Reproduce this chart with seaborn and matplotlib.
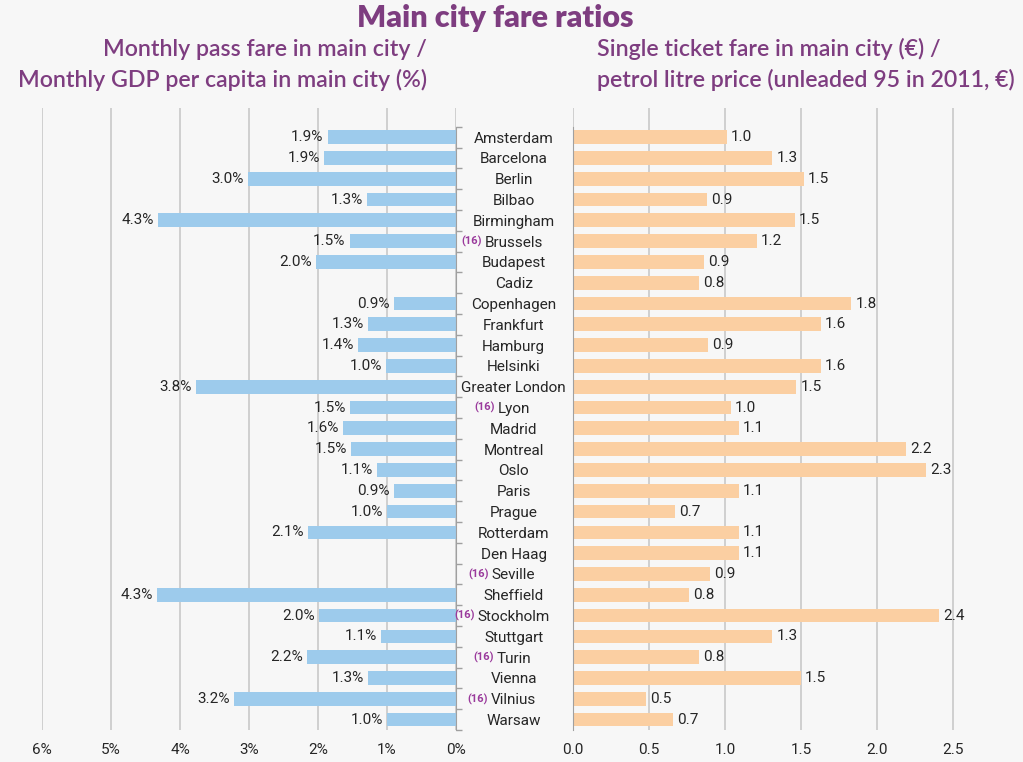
import numpy as np
import pandas as pd
import matplotlib
matplotlib.use("Agg")
import matplotlib.pyplot as plt
import seaborn as sns
from matplotlib import font_manager

# data
cities = ["Amsterdam", "Barcelona", "Berlin", "Bilbao", "Birmingham", "Brussels",
          "Budapest", "Cadiz", "Copenhagen", "Frankfurt", "Hamburg", "Helsinki",
          "Greater London", "Lyon", "Madrid", "Montreal", "Oslo", "Paris", "Prague",
          "Rotterdam", "Den Haag", "Seville", "Sheffield", "Stockholm", "Stuttgart",
          "Turin", "Vienna", "Vilnius", "Warsaw"]
pass_gdp_pct = [1.86, 1.91, 3.01, 1.29, 4.32, 1.54, 2.03, np.nan, 0.90, 1.28,
                1.42, 1.01, 3.77, 1.53, 1.64, 1.52, 1.14, 0.90, 1.00, 2.14,
                np.nan, np.nan, 4.33, 1.99, 1.09, 2.16, 1.28, 3.22, 1.00]
ticket_petrol = [1.01, 1.31, 1.52, 0.88, 1.46, 1.21, 0.86, 0.83, 1.83, 1.63,
                 0.89, 1.63, 1.47, 1.04, 1.09, 2.19, 2.32, 1.09, 0.67, 1.09,
                 1.09, 0.90, 0.76, 2.41, 1.31, 0.83, 1.50, 0.48, 0.66]
footnote_cities = ["Brussels", "Lyon", "Seville", "Stockholm", "Turin", "Vilnius"]
pct_ticks = [0, 1, 2, 3, 4, 5, 6]
ratio_ticks = [0.0, 0.5, 1.0, 1.5, 2.0, 2.5]

df = pd.DataFrame({"City": cities, "Pass": pass_gdp_pct, "Ticket": ticket_petrol})

installed = {f.name for f in font_manager.fontManager.ttflist}
cond = "Liberation Sans Narrow" if "Liberation Sans Narrow" in installed else "Roboto"

sns.set_style("white")
plt.rcParams["font.family"] = [cond, "DejaVu Sans"]

purple = "#7e3d80"
note_purple = "#9a3a9c"
blue = "#9dcbec"
orange = "#fbcfa2"
grid_c = "#c9c9c9"
bg = "#f7f7f7"

fig = plt.figure(figsize=(10.23, 7.62), dpi=100, facecolor=bg)
ax_l = fig.add_axes([42 / 1023, 32 / 762, 414 / 1023, 622 / 762])
ax_r = fig.add_axes([573 / 1023, 32 / 762, 445 / 1023, 622 / 762])

sns.barplot(data=df, x="Pass", y="City", order=cities, color=blue, saturation=1,
            width=0.66, errorbar=None, linewidth=0, ax=ax_l)
sns.barplot(data=df, x="Ticket", y="City", order=cities, color=orange, saturation=1,
            width=0.66, errorbar=None, linewidth=0, ax=ax_r)

n = len(cities)
for ax in (ax_l, ax_r):
    ax.set_facecolor("none")
    ax.set_ylim(n - 0.5, -1.4)
    ax.set_xlabel("")
    ax.set_ylabel("")
    ax.grid(axis="x", color=grid_c, lw=1.2)
    ax.grid(axis="y", visible=False)
    ax.set_axisbelow(True)
    for s in ("top", "bottom", "left", "right"):
        ax.spines[s].set_visible(False)
    ax.tick_params(axis="x", length=0, pad=9, labelsize=11)
    ax.tick_params(axis="y", which="minor", length=4, color="#a0a0a0", width=1)

# left panel: pass fare / GDP, reversed axis
ax_l.set_xlim(6, 0)
ax_l.set_xticks(pct_ticks, [f"{t}%" for t in pct_ticks])
ax_l.spines["right"].set_visible(True)
ax_l.spines["right"].set_color("#a0a0a0")
ax_l.spines["right"].set_bounds(-0.5, n - 0.5)
ax_l.yaxis.set_ticks_position("right")
ax_l.set_yticks(range(n), cities)
ax_l.set_yticks(np.arange(-1, n) + 0.5, minor=True)
ax_l.tick_params(axis="y", which="major", length=0, pad=41.5, labelsize=11)
for lbl in ax_l.get_yticklabels():
    lbl.set_horizontalalignment("center")

for i, v in enumerate(pass_gdp_pct):
    if not np.isnan(v):
        ax_l.annotate(f"{v:.1f}%", xy=(v, i), xytext=(-3, 0), textcoords="offset points",
                      ha="right", va="center", fontsize=11)

# right panel: single ticket / petrol litre
ax_r.set_xlim(0, 445 / 152)
ax_r.set_xticks(ratio_ticks, [f"{t:.1f}" for t in ratio_ticks])
ax_r.spines["left"].set_visible(True)
ax_r.spines["left"].set_color("#a0a0a0")
ax_r.spines["left"].set_bounds(-0.5, n - 0.5)
ax_r.set_yticks(range(n), [""] * n)
ax_r.set_yticks(np.arange(-1, n) + 0.5, minor=True)
ax_r.tick_params(axis="y", which="major", length=0)

for i, v in enumerate(ticket_petrol):
    ax_r.annotate(f"{v:.1f}", xy=(v, i), xytext=(3, 0), textcoords="offset points",
                  ha="left", va="center", fontsize=11)

# footnote markers in front of city names
for lbl in ax_l.get_yticklabels():
    if lbl.get_text() in footnote_cities:
        ax_l.annotate("(16)", xy=(0, 0.6), xycoords=lbl, xytext=(-2, 0),
                      textcoords="offset points", ha="right", va="center",
                      fontsize=8, color=note_purple, fontweight="bold")

fig.text(495 / 1023, 1 - 18 / 762, "Main city fare ratios", ha="center", va="center",
         fontsize=22, fontweight="heavy", color=purple, family=["Lato", "DejaVu Sans"])
sub = dict(va="center", fontsize=16.7, fontweight="semibold", color=purple,
           family=["Lato", "DejaVu Sans"])
fig.text(427 / 1023, 1 - 49 / 762, "Monthly pass fare in main city /", ha="right", **sub)
fig.text(427 / 1023, 1 - 80 / 762, "Monthly GDP per capita in main city (%)", ha="right", **sub)
fig.text(597 / 1023, 1 - 49 / 762, "Single ticket fare in main city (€) /", ha="left", **sub)
fig.text(597 / 1023, 1 - 80 / 762, "petrol litre price (unleaded 95 in 2011, €)", ha="left", **sub)

fig.savefig("out.png", dpi=100, facecolor=bg)
